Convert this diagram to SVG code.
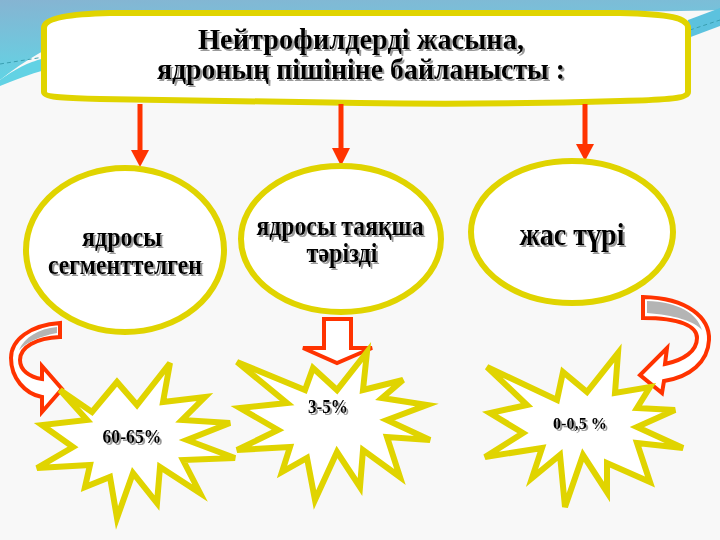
<svg xmlns="http://www.w3.org/2000/svg" width="720" height="540" viewBox="0 0 720 540">
<defs>
<linearGradient id="sky" x1="0" y1="0" x2="0.3" y2="1">
<stop offset="0" stop-color="#86b4d2"/>
<stop offset="1" stop-color="#5fd6e6"/>
</linearGradient>
<filter id="sh" x="-10%" y="-10%" width="120%" height="140%">
<feDropShadow dx="2" dy="2" stdDeviation="0.4" flood-color="#9a9a9a" flood-opacity="1"/>
</filter>
<marker id="ah" markerUnits="userSpaceOnUse" markerWidth="20" markerHeight="20" viewBox="0 0 20 20" refX="10" refY="2" orient="auto-start-reverse">
<path d="M0,0 L20,0 L10,18 Z" fill="#ff3300" transform="rotate(-90 10 10)"/>
</marker>
<style>
.yl{fill:#fff;stroke:#e0d400;stroke-width:6;stroke-linejoin:miter}
.rd{fill:#fff;stroke:#ff3300;stroke-width:4;stroke-linejoin:miter}
.gr{fill:#b4b4b4;stroke:none}
.t{font-family:"Liberation Serif","Times New Roman",serif;font-weight:bold;fill:#000;text-anchor:middle;filter:url(#sh)}
.ln{stroke:#ff3300;stroke-width:5;fill:none}
.hd{fill:#ff3300;stroke:none}
</style>
</defs>
<rect width="720" height="540" fill="#f8f8f8"/>
<path d="M0,0 L720,0 L720,10 C600,14 400,8 200,12 C110,16 50,40 0,80 Z" fill="url(#sky)"/>
<path d="M0,80 C20,66 30,62 45,58 L45,70 C30,74 15,80 0,86 Z" fill="#62d2e4"/>
<path d="M0,64 L44,57" stroke="#3a9fb0" stroke-width="1" stroke-dasharray="4,3" fill="none"/>
<path d="M688,20 L720,8 L720,26 L688,38 Z" fill="#5cc2de"/>
<path d="M690,30 L720,20" stroke="#3a9fb0" stroke-width="1" stroke-dasharray="4,3" fill="none"/>

<g id="title">
<path class="yl" d="M44,28 C44,18 70,14 110,13 L620,13 C670,14 688,18 688,28 L688,92 C688,98 670,100 620,101 C520,104 420,104 360,103 C260,102 160,100 100,99 C60,98 44,97 44,92 Z"/>
<text class="t" x="361" y="49" font-size="30" textLength="326" lengthAdjust="spacingAndGlyphs">Нейтрофилдерді жасына,</text>
<text class="t" x="361" y="79" font-size="30" textLength="408" lengthAdjust="spacingAndGlyphs">ядроның пішініне байланысты :</text>
</g>

<g id="connectors">
<line class="ln" x1="140" y1="104" x2="140" y2="152"/>
<polygon class="hd" points="131,150 149,150 140,167"/>
<line class="ln" x1="341" y1="104" x2="341" y2="150"/>
<polygon class="hd" points="332,148 350,148 341,166"/>
<line class="ln" x1="585" y1="104" x2="585" y2="146"/>
<polygon class="hd" points="576,144 594,144 585,161"/>
</g>

<g id="n-segment">
<ellipse class="yl" cx="125" cy="250" rx="99" ry="82"/>
<text class="t" x="122" y="246" font-size="27" textLength="80" lengthAdjust="spacingAndGlyphs">ядросы</text>
<text class="t" x="125" y="274" font-size="27" textLength="154" lengthAdjust="spacingAndGlyphs">сегменттелген</text>
</g>

<g id="n-rod">
<ellipse class="yl" cx="341" cy="239" rx="100" ry="73"/>
<text class="t" x="340" y="235" font-size="27" textLength="167" lengthAdjust="spacingAndGlyphs">ядросы таяқша</text>
<text class="t" x="342" y="262" font-size="27" textLength="71" lengthAdjust="spacingAndGlyphs">тәрізді</text>
</g>

<g id="n-young">
<ellipse class="yl" cx="572" cy="232" rx="101" ry="71"/>
<text class="t" x="572" y="245" font-size="32" textLength="105" lengthAdjust="spacingAndGlyphs">жас түрі</text>
</g>

<g id="arrow-left">
<path class="rd" d="M60,323 C30,325 11,340 11,358 C11,378 25,394 42,397 L42,412 L62,389 L42,366 L42,379 C29,377 20,370 20,360 C20,347 36,338 60,337 Z"/>
<path class="gr" d="M57,327 C38,329 25,337 19,350 C26,343 40,336 57,333 Z"/>
</g>

<g id="arrow-right">
<path class="rd" d="M643,297 C688,298 710,318 709,340 C708,362 690,377 664,381 L662,393 L640,375 L667,348 L665,364 C684,360 697,351 697,338 C697,326 680,318 643,318 Z"/>
<path class="gr" d="M647,301 C678,302 697,313 702,330 C694,321 674,315 647,313 Z"/>
</g>

<g id="arrow-down">
<path class="rd" d="M324,319 L351,319 L351,348 L372,348 L337,363 L303,348 L324,348 Z"/>
</g>

<g id="star-1">
<polygon class="yl" points="60,390 92,412 117,382 137,405 170,363 163,402 205,397 182,420 230,423 187,440 235,458 183,460 200,493 160,467 157,503 133,473 117,518 110,477 85,487 90,465 37,468 73,447 42,425 87,420"/>
<text class="t" x="132" y="443" font-size="18" textLength="59" lengthAdjust="spacingAndGlyphs">60-65%</text>
</g>

<g id="star-2">
<polygon class="yl" points="237,362 305,390 313,368 337,390 367,352 363,390 403,380 382,398 427,405 387,420 430,440 387,437 400,477 363,450 360,487 337,452 315,500 307,458 282,472 290,447 237,450 278,430 240,408 287,403"/>
<text class="t" x="328" y="413" font-size="18" textLength="40" lengthAdjust="spacingAndGlyphs">3-5%</text>
</g>

<g id="star-3">
<polygon class="yl" points="487,367 557,400 563,372 587,392 618,353 615,393 650,387 637,408 675,410 637,427 683,448 637,443 650,482 607,463 607,492 583,455 565,507 560,455 532,478 542,448 485,457 523,433 490,413 527,405"/>
<text class="t" x="580" y="429" font-size="17" textLength="54" lengthAdjust="spacingAndGlyphs">0-0,5 %</text>
</g>
</svg>
